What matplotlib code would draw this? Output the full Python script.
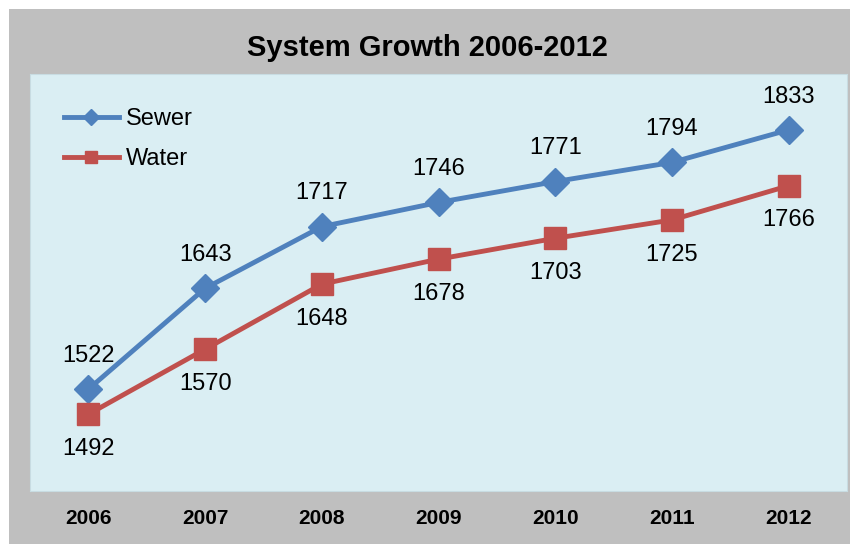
import matplotlib.pyplot as plt
from matplotlib.patches import Rectangle

plt.rcParams['font.family'] = ['Liberation Sans', 'DejaVu Sans']

years = ['2006', '2007', '2008', '2009', '2010', '2011', '2012']
sewer = [1522, 1643, 1717, 1746, 1771, 1794, 1833]
water = [1492, 1570, 1648, 1678, 1703, 1725, 1766]

W, H = 850, 544
fig = plt.figure(figsize=(W / 100, H / 100), dpi=100, facecolor='white')

# grey chart frame behind everything
fig.patches.append(Rectangle((9 / W, 0), 1 - 9 / W, 1 - 9 / H,
                             transform=fig.transFigure, facecolor='#bfbfbf',
                             edgecolor='none', zorder=-1))

ax = fig.add_axes([30 / W, (H - 491) / H, 817 / W, 417 / H])
ax.set_facecolor('#daeef3')
for s in ax.spines.values():
    s.set_color('#c8dce2')

x = list(range(len(years)))
ax.plot(x, sewer, color='#4f81bd', lw=3.5, marker='D', ms=14,
        label='Sewer', zorder=3)
ax.plot(x, water, color='#c0504d', lw=3.5, marker='s', ms=16,
        label='Water', zorder=3)

for xi, v in zip(x, sewer):
    ax.annotate(str(v), (xi, v), xytext=(0, 24), textcoords='offset points',
                ha='center', va='center', fontsize=17)
for xi, v in zip(x, water):
    ax.annotate(str(v), (xi, v), xytext=(0, -25), textcoords='offset points',
                ha='center', va='center', fontsize=17)

ax.set_xlim(-0.5, 6.5)
ax.set_ylim(1400, 1900)
ax.set_yticks([])
ax.set_xticks(x)
ax.set_xticklabels(years, fontsize=15, fontweight='bold')
ax.tick_params(axis='x', length=0, pad=13)

ax.legend(loc='upper left', frameon=False, fontsize=17, handlelength=2.3,
          markerscale=0.55, borderaxespad=0.4, borderpad=1.05,
          labelspacing=0.75, handletextpad=0.3)

fig.text(427 / W, 1 - 48 / H, 'System Growth 2006-2012', ha='center',
         va='center', fontsize=21, fontweight='bold')

fig.savefig('out.png', dpi=100, facecolor=fig.get_facecolor())
